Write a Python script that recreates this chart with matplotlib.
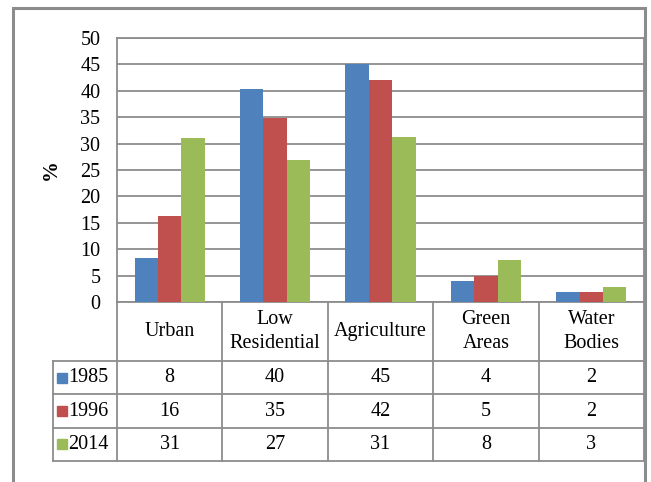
import numpy as np
import matplotlib.pyplot as plt
from matplotlib.patches import Rectangle

plt.rcParams['font.family'] = ['Liberation Serif', 'DejaVu Serif']

categories = ['Urban', 'Low\nResidential', 'Agriculture', 'Green\nAreas', 'Water\nBodies']
years = ['1985', '1996', '2014']
v1985 = [8.3, 40.4, 45.1, 3.9, 1.8]
v1996 = [16.3, 34.9, 42.0, 4.9, 1.8]
v2014 = [31.0, 26.8, 31.3, 7.9, 2.9]
table_1985 = [8, 40, 45, 4, 2]
table_1996 = [16, 35, 42, 5, 2]
table_2014 = [31, 27, 31, 8, 3]
colors = ['#4F81BD', '#C0504D', '#9BBB59']

W, H = 651, 482
fig = plt.figure(figsize=(W / 100, H / 100), dpi=100)

# outer chart frame (bottom edge lies below the image)
fig.patches.append(Rectangle((13 / W, -0.05), (645 - 13) / W, 1.05 - 8.5 / H,
                             transform=fig.transFigure, fill=False,
                             edgecolor='#8C8C8C', linewidth=2.2))

# plot area in pixels
px0, px1, py0, py1 = 117, 644, 38, 302
ax = fig.add_axes([px0 / W, 1 - py1 / H, (px1 - px0) / W, (py1 - py0) / H])

x = np.arange(len(categories))
bw = 1 / 4.5
series = [v1985, v1996, v2014]
for i, vals in enumerate(series):
    ax.bar(x + (i - 1) * bw, vals, width=bw, color=colors[i], zorder=3)

ax.set_xlim(-0.5, len(categories) - 0.5)
ax.set_ylim(0, 50)
ax.set_yticks(np.arange(0, 51, 5))
ax.set_xticks([])
ax.tick_params(axis='y', length=0, pad=12, labelsize=14.5)
ax.yaxis.grid(True, color='#8C8C8C', linewidth=1.3, zorder=0)
for s in ax.spines.values():
    s.set_color('#8C8C8C')
    s.set_linewidth(1.3)
ax.set_ylabel('%', fontsize=15, fontweight='bold', labelpad=14)

# data table below the plot
tx0, ty1 = 53, 461
cat_px = (px1 - px0) / len(categories)
leg_w = (px0 - tx0) / cat_px
header_h = 59 / 33.3
tax = fig.add_axes([tx0 / W, 1 - ty1 / H, (px1 - tx0) / W, (ty1 - py1) / H])
tax.set_xlim(-0.5 - leg_w, len(categories) - 0.5)
tax.set_ylim(0, 3 + header_h)
tax.axis('off')

lc = '#8C8C8C'
lw = 1.3
for k in range(len(categories) + 1):
    tax.plot([k - 0.5, k - 0.5], [0, 3 + header_h], color=lc, lw=lw, clip_on=False)
tax.plot([-0.5 - leg_w] * 2, [0, 3], color=lc, lw=lw, clip_on=False)
for r in range(4):
    tax.plot([-0.5 - leg_w, len(categories) - 0.5], [r, r], color=lc, lw=lw, clip_on=False)

for j, c in enumerate(categories):
    tax.text(j, 3 + header_h / 2, c, ha='center', va='center', fontsize=14.5,
             linespacing=1.35)

table_rows = [table_1985, table_1996, table_2014]
for i, (yr, row) in enumerate(zip(years, table_rows)):
    yc = 2.5 - i
    tax.plot(-0.5 - leg_w + 0.085, yc, marker='s', markersize=6.5,
             color=colors[i], linestyle='none', clip_on=False)
    tax.text(-0.5 - leg_w + 0.14, yc, yr, ha='left', va='center', fontsize=14.5)
    for j, v in enumerate(row):
        tax.text(j, yc, str(v), ha='center', va='center', fontsize=14.5)

fig.savefig('out.png', dpi=100)
